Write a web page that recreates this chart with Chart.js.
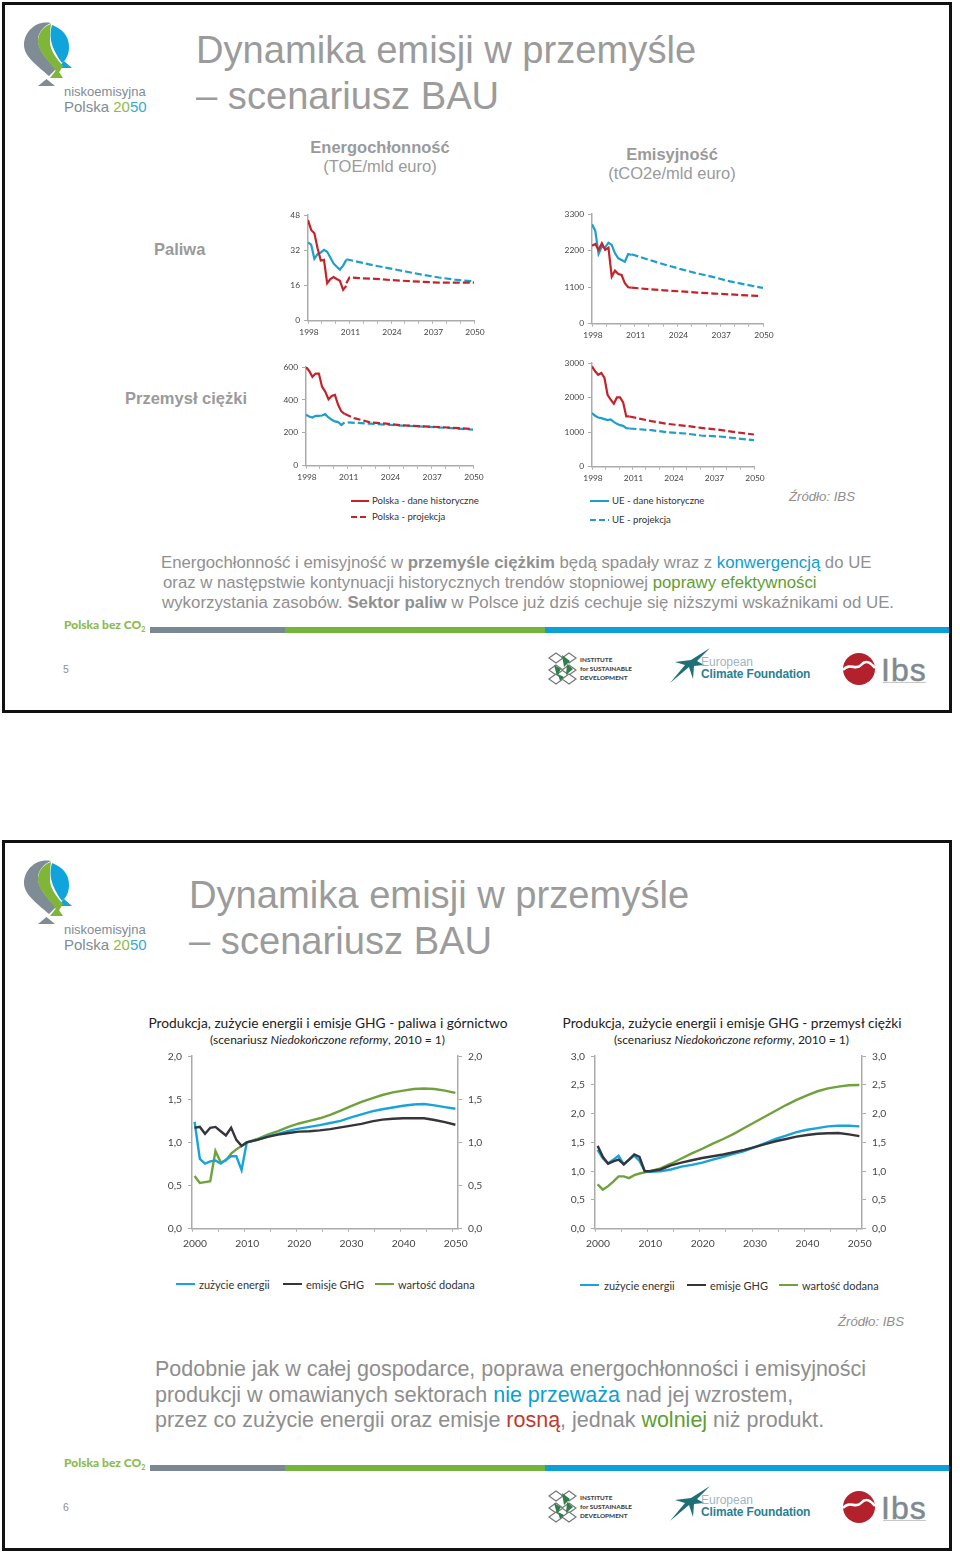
<!DOCTYPE html>
<html lang="pl">
<head>
<meta charset="utf-8">
<title>Dynamika emisji w przemyśle</title>
<script src="https://cdn.jsdelivr.net/npm/chart.js@4"></script>
<style>
html, body { margin: 0; padding: 0; background: #fff; }
#page { position: relative; width: 960px; height: 1556px; overflow: hidden; font-family: "Liberation Sans", Arial, sans-serif; color: #9a9a9a; }
#page canvas { position: absolute; }
.frame { position: absolute; left: 2px; width: 944px; height: 705px; border: 3px solid #111; }
.t { position: absolute; white-space: nowrap; line-height: 1; transform: translateY(-50%); }
.title { font-size: 38.15px; color: #9b9b9b; }
.head { font-size: 16.5px; color: #9a9a9a; text-align: center; }
.row { font-size: 16.5px; font-weight: bold; color: #9a9a9a; }
.src { font-size: 13.2px; font-style: italic; color: #8e8e8e; }
.para1 { font-size: 16.75px; color: #909090; }
.para2 { font-size: 21.5px; color: #8e8e8e; }
.cal { font-family: Lato, sans-serif; color: #333; }
.leg { position: absolute; height: 2px; }
.blue { color: #0aa0d2; } .green { color: #5f9e2f; } .red { color: #c0392b; }
.rect { position: absolute; }
</style>
</head>
<body>
<div id="page"></div>
<script>
// lata
const histYears = [1998, 1999, 2000, 2001, 2002, 2003, 2004, 2005, 2006, 2007, 2008, 2009, 2010];
const topLabels = [1998, 2011, 2024, 2037, 2050];
const histYears2 = [2000, 2001, 2002, 2003, 2004, 2005, 2006, 2007, 2008, 2009, 2010];
const futureYears2 = [2012, 2014, 2016, 2018, 2020, 2022, 2024, 2026, 2028, 2030, 2032, 2034, 2036, 2038, 2040, 2042, 2044, 2046, 2048, 2050];
const bottomLabels = [2000, 2010, 2020, 2030, 2040, 2050];

// paliwa - energochlonnosc
const ticksA = [0, 16, 32, 48];
const plA = [45.7, 41.2, 39.7, 32.9, 27.3, 27.6, 17, 18.9, 19.8, 18.9, 18.1, 14, 15.8];
const plAProjYears = [2010, 2011, 2014, 2019, 2024, 2029, 2034, 2039, 2044, 2050];
const plAProj = [17, 19.6, 19.3, 19, 18.4, 18, 17.6, 17.3, 17.3, 17.3];
const ueA = [35.5, 34.5, 28.1, 30.2, 30.9, 32.2, 31.3, 28.7, 26, 24.5, 23.2, 25, 27.6];
const ueAProjYears = [2010, 2014, 2019, 2024, 2029, 2034, 2039, 2044, 2050];
const ueAProj = [27.9, 26.6, 25, 23.6, 22.2, 20.8, 19.6, 18.6, 17.8];

// paliwa - emisyjnosc
const ticksB = [0, 1100, 2200, 3300];
const plB = [2347, 2397, 2217, 2417, 2217, 2287, 1414, 1595, 1494, 1464, 1214, 1093, 1083];
const plBProjYears = [2010, 2015, 2020, 2025, 2030, 2035, 2040, 2045, 2049];
const plBProj = [1083, 1040, 1000, 970, 935, 905, 880, 850, 832];
const ueB = [2990, 2790, 2100, 2317, 2297, 2437, 2367, 2116, 1966, 1916, 1866, 2096, 2066];
const ueBProjYears = [2010, 2015, 2020, 2025, 2030, 2035, 2040, 2045, 2050];
const ueBProj = [2086, 1930, 1780, 1640, 1510, 1400, 1270, 1170, 1073];

// przemysl ciezki - energochlonnosc
const ticksC = [0, 200, 400, 600];
const plC = [600, 576, 540, 560, 560, 480, 450, 404, 424, 430, 370, 330, 315];
const plCProjYears = [2010, 2013, 2018, 2023, 2028, 2039, 2050];
const plCProj = [315, 289, 263, 255, 245, 235, 223];
const ueC = [309, 299, 293, 303, 303, 305, 313, 293, 279, 269, 265, 247, 263];
const ueCProjYears = [2011, 2018, 2028, 2039, 2050];
const ueCProj = [263, 255, 243, 233, 219];

// przemysl ciezki - emisyjnosc
const ticksD = [0, 1000, 2000, 3000];
const plD = [2900, 2760, 2660, 2710, 2565, 2080, 1936, 1820, 2004, 2004, 1858, 1452, 1452];
const plDProjYears = [2010, 2017, 2022, 2028, 2033, 2039, 2044, 2050];
const plDProj = [1452, 1316, 1239, 1181, 1123, 1065, 997, 929];
const ueD = [1549, 1471, 1423, 1404, 1375, 1345, 1365, 1297, 1239, 1200, 1181, 1113, 1104];
const ueDProjYears = [2010, 2017, 2022, 2028, 2033, 2039, 2044, 2050];
const ueDProj = [1104, 1055, 997, 958, 900, 871, 823, 765];

// paliwa i gornictwo
const ticksE = [0, 0.5, 1, 1.5, 2];
const energyE = [1.24, 0.81, 0.755, 0.78, 0.79, 0.755, 0.8, 0.84, 0.84, 0.68, 1];
const energyEFuture = [1.03, 1.07, 1.1, 1.135, 1.16, 1.18, 1.2, 1.225, 1.25, 1.29, 1.325, 1.36, 1.385, 1.405, 1.425, 1.44, 1.445, 1.43, 1.41, 1.39];
const ghgE = [1.17, 1.18, 1.1, 1.17, 1.18, 1.13, 1.08, 1.17, 1.03, 0.96, 1];
const ghgEFuture = [1.03, 1.065, 1.09, 1.11, 1.125, 1.13, 1.14, 1.155, 1.175, 1.195, 1.215, 1.245, 1.265, 1.275, 1.28, 1.28, 1.28, 1.26, 1.235, 1.205];
const valueE = [0.61, 0.53, 0.54, 0.55, 0.9, 0.77, 0.79, 0.87, 0.92, 0.96, 1];
const valueEFuture = [1.04, 1.09, 1.13, 1.18, 1.22, 1.25, 1.28, 1.32, 1.37, 1.42, 1.47, 1.51, 1.55, 1.58, 1.6, 1.62, 1.625, 1.62, 1.6, 1.575];

// przemysl ciezki
const ticksF = [0, 0.5, 1, 1.5, 2, 2.5, 3];
const energyF = [1.37, 1.22, 1.14, 1.2, 1.27, 1.12, 1.2, 1.27, 1.18, 1, 0.99];
const energyFFuture = [1, 1.03, 1.08, 1.11, 1.15, 1.2, 1.25, 1.3, 1.35, 1.42, 1.49, 1.56, 1.62, 1.68, 1.72, 1.75, 1.78, 1.79, 1.79, 1.78];
const ghgF = [1.44, 1.25, 1.13, 1.17, 1.2, 1.12, 1.2, 1.29, 1.25, 1, 1];
const ghgFFuture = [1.03, 1.1, 1.15, 1.19, 1.23, 1.26, 1.29, 1.33, 1.37, 1.42, 1.47, 1.52, 1.56, 1.6, 1.63, 1.65, 1.66, 1.665, 1.64, 1.61];
const valueF = [0.77, 0.68, 0.74, 0.82, 0.91, 0.91, 0.88, 0.93, 0.96, 0.98, 1];
const valueFFuture = [1.05, 1.13, 1.22, 1.31, 1.39, 1.48, 1.56, 1.65, 1.75, 1.85, 1.95, 2.05, 2.15, 2.24, 2.32, 2.39, 2.44, 2.47, 2.495, 2.5];

const RED = '#c4232b';
const BLUE = '#1c9fc8';
const GREEN = '#6fa23c';
const DARK = '#35353b';
const LIGHTBLUE = '#19a4d8';
const AXIS = '#ababab';

const page = document.getElementById('page');

function points(years, values) {
    return values.map((v, i) => ({ x: years[i], y: v }));
}

function line(label, data, color, width, dashed) {
    return {
        label: label,
        data: data,
        borderColor: color,
        borderWidth: width,
        borderDash: dashed ? [7, 3] : [],
        pointRadius: 0,
        tension: 0,
        fill: false
    };
}

// plot area is given in page pixels, the canvas is grown around it
function makeChart(box, yTicks, xMin, xMax, xTicks, xLabels, labelOffset, fontSize, twoAxes, format, datasets) {
    const leftW = 44, rightW = 30, topH = 12, bottomH = fontSize + 16;
    const yPad = twoAxes ? 6 : 4;
    const xPad = twoAxes ? 6 : 4;
    const canvas = document.createElement('canvas');
    const w = box.r - box.l + leftW + rightW;
    const h = box.b - box.t + topH + bottomH;
    canvas.width = w;
    canvas.height = h;
    canvas.style.left = (box.l - leftW) + 'px';
    canvas.style.top = (box.t - topH) + 'px';
    canvas.style.width = w + 'px';
    canvas.style.height = h + 'px';
    page.appendChild(canvas);

    const yAxis = position => ({
        type: 'linear',
        position: position,
        min: yTicks[0],
        max: yTicks[yTicks.length - 1],
        afterBuildTicks: scale => { scale.ticks = yTicks.map(v => ({ value: v })); },
        afterFit: scale => { scale.width = position === 'left' ? leftW : rightW; },
        border: { display: true, color: AXIS, width: 1.5 },
        grid: { drawOnChartArea: false, drawTicks: true, tickLength: 4, color: AXIS },
        ticks: { color: '#444', font: { family: 'Lato', size: fontSize }, padding: yPad, callback: format }
    });

    const scales = {
        x: {
            type: 'linear',
            min: xMin,
            max: xMax,
            afterBuildTicks: scale => { scale.ticks = xTicks.map(v => ({ value: v })); },
            afterFit: scale => { scale.height = bottomH; },
            border: { display: true, color: AXIS, width: 1.5 },
            grid: { drawOnChartArea: false, drawTicks: true, tickLength: 3, color: AXIS },
            ticks: {
                color: '#444',
                font: { family: 'Lato', size: fontSize },
                padding: xPad,
                maxRotation: 0,
                autoSkip: false,
                labelOffset: labelOffset,
                callback: xLabels
            }
        },
        y: yAxis('left')
    };
    if (twoAxes) {
        scales.y2 = yAxis('right');
    }

    return new Chart(canvas.getContext('2d'), {
        type: 'line',
        data: { datasets: datasets },
        options: {
            responsive: false,
            animation: false,
            parsing: true,
            layout: { padding: { top: topH, right: twoAxes ? 0 : rightW, bottom: 0, left: 0 } },
            plugins: { legend: { display: false }, tooltip: { enabled: false } },
            scales: scales
        }
    });
}

// tick marks on the upper charts: three between each label
const topTicks = [];
for (let i = 0; i <= 12; i++) {
    topTicks.push(1998 + i * 13 / 3);
}
const topLabel = v => (topLabels.includes(Math.round(v * 1000) / 1000) ? String(Math.round(v)) : '');

function topChart(box, yTicks, pl, plYears, plProj, ue, ueYears, ueProj) {
    makeChart(box, yTicks, 1998, 2050, topTicks, topLabel, 1, 8.4, false, v => String(v), [
        line('Polska - dane historyczne', points(histYears, pl), RED, 2.2, false),
        line('UE - dane historyczne', points(histYears, ue), BLUE, 2.2, false),
        line('Polska - projekcja', points(plYears, plProj), RED, 2.2, true),
        line('UE - projekcja', points(ueYears, ueProj), BLUE, 2.2, true)
    ]);
}

// marks every five years from the left edge, labels moved to the year they name
const bottomTicks = [];
for (let i = 0; i <= 10; i++) {
    bottomTicks.push(1999.5 + i * 5);
}
const bottomLabel = v => {
    const year = v + 0.5;
    return bottomLabels.includes(year) ? String(year) : '';
};
const comma = v => v.toFixed(1).replace('.', ',');

function bottomChart(box, yTicks, energy, energyFuture, ghg, ghgFuture, value, valueFuture) {
    const years = histYears2.concat(futureYears2);
    makeChart(box, yTicks, 1999.5, 2050.5, bottomTicks, bottomLabel, 3, 10.3, true, comma, [
        line('emisje GHG', points(years, ghg.concat(ghgFuture)), DARK, 2.4, false),
        line('zużycie energii', points(years, energy.concat(energyFuture)), LIGHTBLUE, 2.4, false),
        line('wartość dodana', points(years, value.concat(valueFuture)), GREEN, 2.4, false)
    ]);
}

function text(cls, x, y, html, extra) {
    const el = document.createElement('div');
    el.className = 't ' + cls;
    el.style.left = x + 'px';
    el.style.top = y + 'px';
    if (extra) {
        el.style.cssText += extra;
    }
    el.innerHTML = html;
    page.appendChild(el);
    return el;
}

function centered(cls, x, y, html, extra) {
    return text(cls, x, y, html, 'transform:translate(-50%,-50%);' + (extra || ''));
}

function legendLine(x1, x2, y, color, dashed) {
    const el = document.createElement('div');
    el.className = 'leg';
    el.style.left = x1 + 'px';
    el.style.top = (y - 1) + 'px';
    el.style.width = (x2 - x1) + 'px';
    el.style.background = dashed
        ? 'repeating-linear-gradient(90deg,' + color + ' 0 6px,transparent 6px 9px)'
        : color;
    page.appendChild(el);
}

function slideChrome(dy, number) {
    const frame = document.createElement('div');
    frame.className = 'frame';
    frame.style.top = (2 + dy) + 'px';
    page.appendChild(frame);

    // balloon logo, upper left
    page.insertAdjacentHTML('beforeend', `
    <svg style="position:absolute;left:0;top:${dy}px" width="160" height="120">
      <path d="M46.5 79 L55 86 L38 86 Z" fill="#7f8c96"/>
      <path d="M64 61 L72 68 L58 68 Z" fill="#11a3dc"/>
      <path d="M57 69 L63 78 L50 78 Z" fill="#7fb539"/>
      <path d="M51 23 C36 20 24 32 24 45 C24 57 38 66 49 76 L56 69 C47 60 38 50 38 40 C38 32 44 26 51 23 Z" fill="#7f8c96"/>
      <path d="M51 24 C42 27 38 34 38 42 C38 52 50 62 58 74 L63 66 C56 58 50 50 50 42 C50 36 50 30 51 24 Z" fill="#7fb539"/>
      <path d="M52 25 C49 36 50 46 62 63 C67 60 71 50 68 40 C66 33 60 28 52 25 Z" fill="#11a3dc"/>
    </svg>`);
    text('', 64, 91 + dy, 'niskoemisyjna', 'font-size:13px;color:#7f8c96;');
    text('', 64, 106 + dy, 'Polska <span style="color:#8dbb4a">20</span><span style="color:#35a9d0">50</span>', 'font-size:15px;color:#7f8c96;');

    // footer
    text('', 64, 624 + dy, 'Polska bez CO<sub style="font-size:7px;line-height:0">2</sub>', 'font:900 12px Lato,sans-serif;color:#8cbb4e;');
    [[150, 285, '#7a8794'], [285, 545, '#72b43c'], [545, 949, '#0f9fd8']].forEach(b => {
        page.insertAdjacentHTML('beforeend', `<div class="rect" style="left:${b[0]}px;top:${627 + dy}px;width:${b[1] - b[0]}px;height:6px;background:${b[2]}"></div>`);
    });
    text('', 63, 669 + dy, String(number), 'font-size:10.5px;color:#8e8e8e;');

    // partner logos
    page.insertAdjacentHTML('beforeend', `
    <svg style="position:absolute;left:540px;top:${645 + dy}px" width="400" height="48">
      <g fill="#fff" stroke="#777" stroke-width="1.2">
        <path d="M9 13 L16 8 L23 13 L16 18 Z"/><path d="M22 13 L29 8 L36 13 L29 18 Z"/>
        <path d="M9 25 L16 20 L23 25 L16 30 Z"/><path d="M22 25 L29 20 L36 25 L29 30 Z"/>
        <path d="M9 34 L16 29 L23 34 L16 39 Z"/><path d="M22 34 L29 29 L36 34 L29 39 Z"/>
      </g>
      <path d="M22 10 L30 16 L24 22 Z M14 20 L21 24 L17 31 Z M27 19 L33 24 L26 30 Z M18 29 L24 32 L20 36 Z" fill="#2d7f4a"/>
      <path d="M130 38 L145 20 L135 17 L151 15 L170 3 L157 16 L164 20 L154 21 L153 34 L149 22 Z" fill="#1f6f78"/>
      <circle cx="319" cy="24" r="16" fill="#b3222c"/>
      <path d="M303 25 C310 17 316 26 321 20 C326 14 331 18 335 23" fill="none" stroke="#fff" stroke-width="2.6"/>
      <rect x="343" y="37" width="43" height="1" fill="#c8c8c8"/>
    </svg>`);
    text('cal', 580, 660 + dy, 'INSTITUTE', 'font-size:6.4px;font-weight:900;color:#444;');
    text('cal', 580, 669 + dy, 'for SUSTAINABLE', 'font-size:6.4px;font-weight:900;color:#444;');
    text('cal', 580, 678 + dy, 'DEVELOPMENT', 'font-size:6.4px;font-weight:900;color:#444;');
    text('', 701, 662 + dy, 'European', 'font-size:12px;color:#9db6c2;');
    text('', 701, 674 + dy, 'Climate Foundation', 'font-size:12px;font-weight:bold;color:#2b7f91;letter-spacing:-.15px;');
    text('', 881, 670 + dy, 'Ibs', 'font-size:32px;color:#80898f;letter-spacing:1px;-webkit-text-stroke:.5px #80898f;');
}

slideChrome(0, 5);
slideChrome(838, 6);

// slide 5
text('title', 196, 50, 'Dynamika emisji w przemyśle');
text('title', 196, 96, '– scenariusz BAU');
centered('head', 380, 147, '<b>Energochłonność</b>');
centered('head', 380, 166, '(TOE/mld euro)');
centered('head', 672, 154, '<b>Emisyjność</b>');
centered('head', 672, 173, '(tCO2e/mld euro)');
text('row', 154, 249, 'Paliwa');
text('row', 125, 398, 'Przemysł ciężki');

topChart({ l: 308, r: 474, t: 215, b: 321 }, ticksA, plA, plAProjYears, plAProj, ueA, ueAProjYears, ueAProj);
topChart({ l: 592, r: 763, t: 214, b: 324 }, ticksB, plB, plBProjYears, plBProj, ueB, ueBProjYears, ueBProj);
topChart({ l: 306, r: 473, t: 367, b: 466 }, ticksC, plC, plCProjYears, plCProj, ueC, ueCProjYears, ueCProj);
topChart({ l: 592, r: 754, t: 363, b: 467 }, ticksD, plD, plDProjYears, plDProj, ueD, ueDProjYears, ueDProj);

legendLine(351, 369, 501, RED, false);
text('cal', 372, 501, 'Polska - dane historyczne', 'font-size:9.6px;');
legendLine(351, 369, 517, RED, true);
text('cal', 372, 517, 'Polska - projekcja', 'font-size:9.6px;');
legendLine(590, 609, 501, BLUE, false);
text('cal', 612, 501, 'UE - dane historyczne', 'font-size:9.6px;');
legendLine(590, 609, 520, BLUE, true);
text('cal', 612, 520, 'UE - projekcja', 'font-size:9.6px;');
text('src', 789, 497, 'Źródło: IBS');

text('para1', 161, 562.5, 'Energochłonność i emisyjność w <b>przemyśle ciężkim</b> będą spadały wraz z <span class="blue">konwergencją</span> do UE');
text('para1', 163, 582.5, 'oraz w następstwie kontynuacji historycznych trendów stopniowej <span class="green">poprawy efektywności</span>');
text('para1', 162, 602.5, 'wykorzystania zasobów. <b>Sektor paliw</b> w Polsce już dziś cechuje się niższymi wskaźnikami od UE.', 'font-size:16.85px;');

// slide 6
text('title', 189, 895, 'Dynamika emisji w przemyśle');
text('title', 189, 941, '– scenariusz BAU');

centered('cal', 328, 1023, 'Produkcja, zużycie energii i emisje GHG - paliwa i górnictwo', 'font-size:13.75px;color:#222;');
centered('cal', 327.5, 1040, '(scenariusz <i>Niedokończone reformy</i>, 2010 = 1)', 'font-size:12px;color:#222;');
centered('cal', 732, 1023, 'Produkcja, zużycie energii i emisje GHG - przemysł ciężki', 'font-size:13.7px;color:#222;');
centered('cal', 731.5, 1040, '(scenariusz <i>Niedokończone reformy</i>, 2010 = 1)', 'font-size:12px;color:#222;');

bottomChart({ l: 192, r: 458, t: 1056, b: 1229 }, ticksE, energyE, energyEFuture, ghgE, ghgEFuture, valueE, valueEFuture);
bottomChart({ l: 595, r: 862, t: 1056, b: 1229 }, ticksF, energyF, energyFFuture, ghgF, ghgFFuture, valueF, valueFFuture);

[[176, 199, 283, 306, 375, 398, 1284], [580, 604, 687, 710, 779, 802, 1285]].forEach(r => {
    legendLine(r[0], r[0] + 19, r[6], LIGHTBLUE, false);
    text('cal', r[1], r[6], 'zużycie energii', 'font-size:11px;');
    legendLine(r[2], r[2] + 19, r[6], DARK, false);
    text('cal', r[3], r[6], 'emisje GHG', 'font-size:11px;');
    legendLine(r[4], r[4] + 19, r[6], GREEN, false);
    text('cal', r[5], r[6], 'wartość dodana', 'font-size:11px;');
});
text('src', 838, 1322, 'Źródło: IBS');

text('para2', 155, 1369.5, 'Podobnie jak w całej gospodarce, poprawa energochłonności i emisyjności');
text('para2', 155, 1395.5, 'produkcji w omawianych sektorach <span class="blue">nie przeważa</span> nad jej wzrostem,');
text('para2', 155, 1420.5, 'przez co zużycie energii oraz emisje <span class="red">rosną</span>, jednak <span class="green">wolniej</span> niż produkt.');
</script>
</body>
</html>
